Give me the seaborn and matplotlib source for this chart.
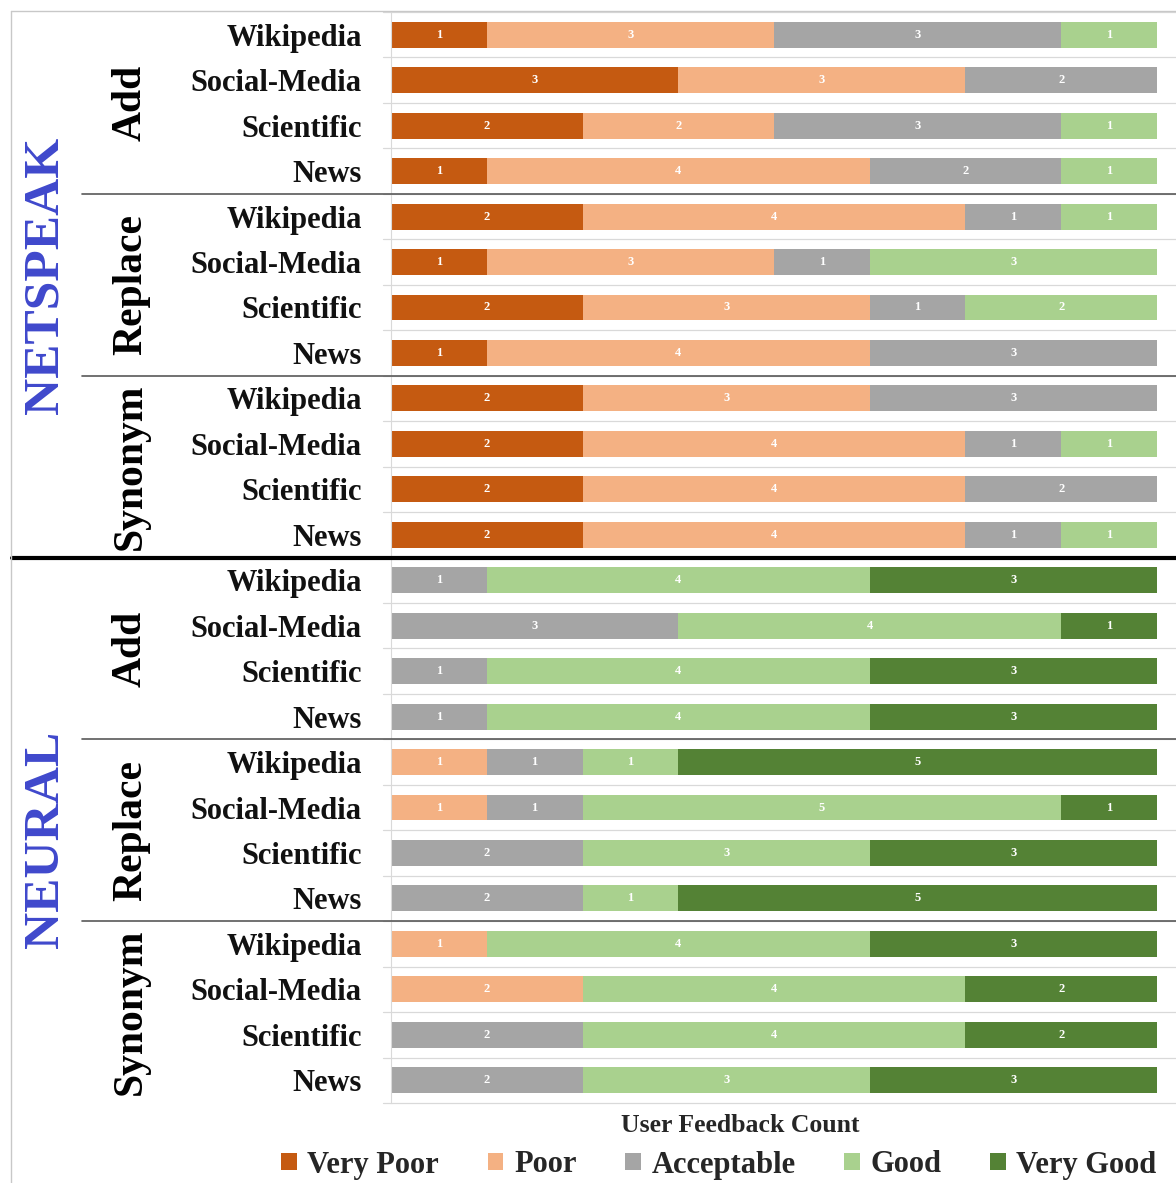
import matplotlib
matplotlib.use("Agg")
import matplotlib.pyplot as plt
import seaborn as sns
import pandas as pd
from matplotlib.lines import Line2D
from matplotlib.patches import Patch

# ---------------- data ----------------
systems = ["NETSPEAK", "NEURAL"]
operations = ["Add", "Replace", "Synonym"]
sources = ["Wikipedia", "Social-Media", "Scientific", "News"]
ratings = ["Very Poor", "Poor", "Acceptable", "Good", "Very Good"]
colors = ["#C55A11", "#F4B183", "#A5A5A5", "#A9D18E", "#548235"]

# rows top to bottom: system -> operation -> source
very_poor  = [1, 3, 2, 1,  2, 1, 2, 1,  2, 2, 2, 2,  0, 0, 0, 0,  0, 0, 0, 0,  0, 0, 0, 0]
poor       = [3, 3, 2, 4,  4, 3, 3, 4,  3, 4, 4, 4,  0, 0, 0, 0,  1, 1, 0, 0,  1, 2, 0, 0]
acceptable = [3, 2, 3, 2,  1, 1, 1, 3,  3, 1, 2, 1,  1, 3, 1, 1,  1, 1, 2, 2,  0, 0, 2, 2]
good       = [1, 0, 1, 1,  1, 3, 2, 0,  0, 1, 0, 1,  4, 4, 4, 4,  1, 5, 3, 1,  4, 4, 4, 3]
very_good  = [0, 0, 0, 0,  0, 0, 0, 0,  0, 0, 0, 0,  3, 1, 3, 3,  5, 1, 3, 5,  3, 2, 2, 3]
series = [very_poor, poor, acceptable, good, very_good]

row_ids, row_labels = [], []
for s in systems:
    for o in operations:
        for src in sources:
            row_ids.append(f"{s}|{o}|{src}")
            row_labels.append(src)
n_rows = len(row_ids)

records = []
for i, rid in enumerate(row_ids):
    start = 0
    for r, vals in zip(ratings, series):
        v = vals[i]
        records.append({"row": rid, "rating": r, "value": v,
                        "start": start, "end": start + v})
        start += v
df = pd.DataFrame(records)

# ---------------- figure ----------------
sns.set_theme(style="white")
plt.rcParams["font.family"] = ["Liberation Serif", "DejaVu Serif"]
SERIF = "Liberation Serif"

W, H = 1176, 1183
fig = plt.figure(figsize=(W / 100, H / 100), dpi=100)
ax_left, ax_right, ax_top, ax_bot = 391, 1176, 12, 1103
ax = fig.add_axes([ax_left / W, 1 - ax_bot / H, (ax_right - ax_left) / W, (ax_bot - ax_top) / H])

# stacked bars: draw cumulative ends from longest (last rating) to shortest
for r, c in reversed(list(zip(ratings, colors))):
    sub = df[df["rating"] == r]
    sns.barplot(data=sub, x="end", y="row", order=row_ids, color=c,
                width=0.57, orient="h", errorbar=None, linewidth=0,
                saturation=1, ax=ax)

# segment value labels
for _, rec in df.iterrows():
    if rec["value"] > 0:
        i = row_ids.index(rec["row"])
        ax.text(rec["start"] + rec["value"] / 2, i, str(int(rec["value"])),
                ha="center", va="center", color="white", fontsize=9,
                fontweight="bold", family=SERIF)

total = 8
ax.set_xlim(0, total * (ax_right - ax_left) / (1157 - ax_left))
ax.set_ylim(n_rows - 0.5, -0.5)
ax.set_xticks([])
ax.set_xlabel("")
ax.set_ylabel("")
ax.set_yticks(range(n_rows))
ax.set_yticklabels(row_labels, fontsize=22, fontweight="bold", family=SERIF, color="#111111")
ax.tick_params(axis="y", length=0, pad=21)
for sp in ["top", "right", "bottom"]:
    ax.spines[sp].set_visible(False)
ax.spines["left"].set_color("#d9d9d9")
ax.spines["left"].set_linewidth(0.8)

ytr = ax.get_yaxis_transform()
px = lambda x: (x - ax_left) / (ax_right - ax_left)

# light row separators
for b in range(n_rows + 1):
    y = b - 0.5
    ax.plot([px(383), 1], [y, y], transform=ytr, color="#d9d9d9", lw=0.9,
            clip_on=False, zorder=0.5)

# group separators
for b in [4, 8, 16, 20]:
    ax.plot([px(82), 1], [b - 0.5, b - 0.5], transform=ytr, color="#595959",
            lw=1.2, clip_on=False, zorder=3)
ax.plot([px(12), 1], [11.5, 11.5], transform=ytr, color="black", lw=3,
        clip_on=False, zorder=3)

# operation labels
for si in range(len(systems)):
    for oi, o in enumerate(operations):
        yc = si * 12 + oi * 4 + 1.5
        ax.text(px(131), yc, o, transform=ytr, rotation=90, ha="center",
                va="center", fontsize=30, fontweight="bold", family=SERIF,
                color="black")

# system labels
sys_centers = [5.3, 17.7]
for si, s in enumerate(systems):
    ax.text(px(46), sys_centers[si], s, transform=ytr, rotation=90, ha="center",
            va="center", fontsize=37, fontweight="bold", family=SERIF,
            color="#3F48CC")

# figure frame (left and top)
fig.add_artist(Line2D([10.5 / W, 10.5 / W], [0, 1 - 11 / H], color="#c8c8c8", lw=1))
fig.add_artist(Line2D([10.5 / W, 1], [1 - 11 / H, 1 - 11 / H], color="#c8c8c8", lw=1))

# axis title
fig.text(740 / W, 1 - 1125 / H, "User Feedback Count", ha="center", va="center",
         fontsize=18.5, fontweight="bold", family=SERIF)

# legend
handles = [Patch(facecolor=c, edgecolor="none") for c in colors]
fig.legend(handles, ratings, loc="center", bbox_to_anchor=(719 / W, 1 - 1165 / H),
           ncol=5, frameon=False,
           prop={"family": SERIF, "weight": "bold", "size": 22},
           handlelength=0.5, handleheight=0.5, handletextpad=0.35,
           columnspacing=1.6, borderaxespad=0)

fig.savefig("out.png", dpi=100)
